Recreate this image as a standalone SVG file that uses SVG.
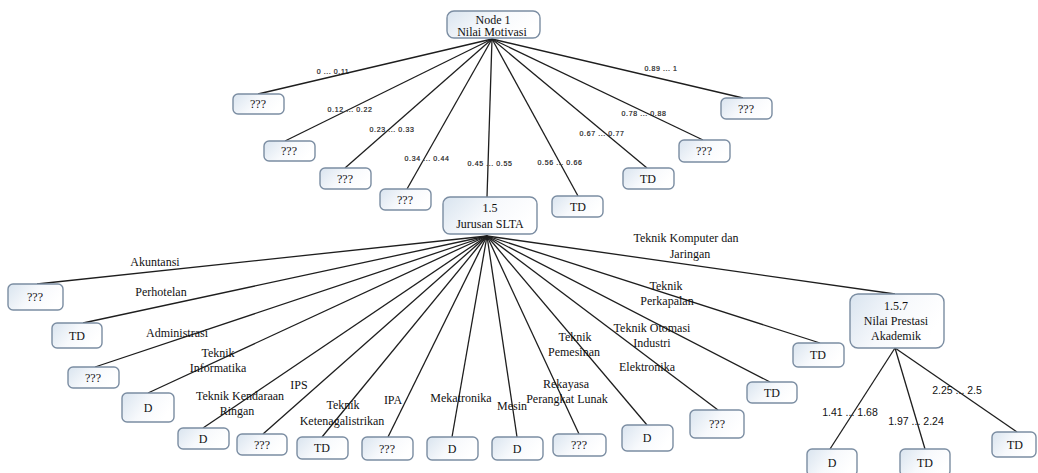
<svg xmlns="http://www.w3.org/2000/svg" width="1038" height="473" viewBox="0 0 1038 473">
  <defs>
    <linearGradient id="boxFill" x1="0" y1="0" x2="1" y2="0.4">
      <stop offset="0" stop-color="#d9e4ef"/>
      <stop offset="0.55" stop-color="#f7f9fc"/>
      <stop offset="1" stop-color="#ffffff"/>
    </linearGradient>
  </defs>
  <style>
    .box { fill: url(#boxFill); stroke: #7b8da2; stroke-width: 1.4; }
    .nt { font-family: "Liberation Serif", serif; font-size: 12px; fill: #111111; text-anchor: middle; }
    .el { font-family: "Liberation Serif", serif; font-size: 12px; fill: #111111; text-anchor: middle; }
    .sl { font-family: "Liberation Sans", sans-serif; font-size: 7px; letter-spacing: 0.6px; fill: #111111; stroke: #333333; stroke-width: 0.2; text-anchor: middle; }
    .nl { font-family: "Liberation Sans", sans-serif; font-size: 10.5px; fill: #111111; text-anchor: middle; }
    .edge { stroke: #1e1e1e; stroke-width: 1.3; fill: none; }
  </style>

  <rect width="1038" height="473" fill="#ffffff"/>

  <!-- connectors -->
  <g id="connectors">
    <!-- Node 1 branches -->
    <line class="edge" x1="492" y1="39" x2="258" y2="94"/>
    <line class="edge" x1="492" y1="39" x2="285" y2="141"/>
    <line class="edge" x1="492" y1="39" x2="345" y2="168"/>
    <line class="edge" x1="492" y1="39" x2="407" y2="189"/>
    <line class="edge" x1="492" y1="39" x2="487" y2="197"/>
    <line class="edge" x1="492" y1="39" x2="578" y2="196"/>
    <line class="edge" x1="492" y1="39" x2="647" y2="168"/>
    <line class="edge" x1="492" y1="39" x2="703" y2="140"/>
    <line class="edge" x1="492" y1="39" x2="743" y2="98"/>
    <!-- 1.5 branches -->
    <line class="edge" x1="487" y1="236" x2="37" y2="284"/>
    <line class="edge" x1="487" y1="236" x2="83" y2="323"/>
    <line class="edge" x1="487" y1="236" x2="95" y2="367"/>
    <line class="edge" x1="487" y1="236" x2="148" y2="393"/>
    <line class="edge" x1="487" y1="236" x2="203" y2="428"/>
    <line class="edge" x1="487" y1="236" x2="263" y2="434"/>
    <line class="edge" x1="487" y1="236" x2="322" y2="437"/>
    <line class="edge" x1="487" y1="236" x2="388" y2="437"/>
    <line class="edge" x1="487" y1="236" x2="452" y2="437"/>
    <line class="edge" x1="487" y1="236" x2="517" y2="437"/>
    <line class="edge" x1="487" y1="236" x2="579" y2="434"/>
    <line class="edge" x1="487" y1="236" x2="647" y2="425"/>
    <line class="edge" x1="487" y1="236" x2="718" y2="410"/>
    <line class="edge" x1="487" y1="236" x2="770" y2="382"/>
    <line class="edge" x1="487" y1="236" x2="820" y2="343"/>
    <line class="edge" x1="487" y1="236" x2="895" y2="294"/>
    <!-- 1.5.7 branches -->
    <line class="edge" x1="895" y1="348" x2="830" y2="449"/>
    <line class="edge" x1="895" y1="348" x2="925" y2="449"/>
    <line class="edge" x1="895" y1="348" x2="1017" y2="432"/>

    <!-- branch labels -->
    <text class="sl" x="333" y="74">0 ... 0.11</text>
    <text class="sl" x="350" y="112">0.12 ... 0.22</text>
    <text class="sl" x="392" y="132">0.23 ... 0.33</text>
    <text class="sl" x="427" y="161">0.34 ... 0.44</text>
    <text class="sl" x="490" y="166">0.45 ... 0.55</text>
    <text class="sl" x="560" y="165">0.56 ... 0.66</text>
    <text class="sl" x="602" y="136">0.67 ... 0.77</text>
    <text class="sl" x="644" y="116">0.78 ... 0.88</text>
    <text class="sl" x="661" y="71">0.89 ... 1</text>

    <text class="el" x="155" y="266">Akuntansi</text>
    <text class="el" x="161" y="296">Perhotelan</text>
    <text class="el" x="177" y="337">Administrasi</text>
    <text class="el" x="218" y="357">Teknik</text>
    <text class="el" x="218" y="372">Informatika</text>
    <text class="el" x="240" y="400">Teknik Kendaraan</text>
    <text class="el" x="237" y="415">Ringan</text>
    <text class="el" x="299" y="389">IPS</text>
    <text class="el" x="343" y="409">Teknik</text>
    <text class="el" x="342" y="425">Ketenagalistrikan</text>
    <text class="el" x="393" y="404">IPA</text>
    <text class="el" x="461" y="402">Mekatronika</text>
    <text class="el" x="512" y="410">Mesin</text>
    <text class="el" x="566" y="388">Rekayasa</text>
    <text class="el" x="567" y="403">Perangkat Lunak</text>
    <text class="el" x="575" y="341">Teknik</text>
    <text class="el" x="574" y="356">Pemesinan</text>
    <text class="el" x="652" y="332">Teknik Otomasi</text>
    <text class="el" x="652" y="347">Industri</text>
    <text class="el" x="647" y="371">Elektronika</text>
    <text class="el" x="666" y="290">Teknik</text>
    <text class="el" x="667" y="305">Perkapalan</text>
    <text class="el" x="686" y="242">Teknik Komputer dan</text>
    <text class="el" x="690" y="258">Jaringan</text>

    <text class="nl" x="850" y="416">1.41 ... 1.68</text>
    <text class="nl" x="916" y="425">1.97 ... 2.24</text>
    <text class="nl" x="957" y="394">2.25 ... 2.5</text>
  </g>

  <!-- root -->
  <g id="node-1">
    <rect class="box" x="447" y="11" width="93" height="27" rx="7"/>
    <text class="nt" x="493" y="24">Node 1</text>
    <text class="nt" x="492" y="36">Nilai Motivasi</text>
  </g>

  <!-- Nilai Motivasi children -->
  <g id="n-m1"><rect class="box" x="233" y="94" width="51" height="20" rx="5"/><text class="nt" x="258" y="108">???</text></g>
  <g id="n-m2"><rect class="box" x="264" y="141" width="51" height="20" rx="5"/><text class="nt" x="289" y="155">???</text></g>
  <g id="n-m3"><rect class="box" x="320" y="168" width="51" height="21" rx="5"/><text class="nt" x="345" y="183">???</text></g>
  <g id="n-m4"><rect class="box" x="380" y="189" width="51" height="21" rx="5"/><text class="nt" x="405" y="204">???</text></g>
  <g id="n-1-5">
    <rect class="box" x="443" y="197" width="94" height="37" rx="7"/>
    <text class="nt" x="490" y="212">1.5</text>
    <text class="nt" x="490" y="228">Jurusan SLTA</text>
  </g>
  <g id="n-m6"><rect class="box" x="552" y="196" width="51" height="21" rx="5"/><text class="nt" x="578" y="211">TD</text></g>
  <g id="n-m7"><rect class="box" x="623" y="168" width="51" height="21" rx="5"/><text class="nt" x="648" y="183">TD</text></g>
  <g id="n-m8"><rect class="box" x="679" y="140" width="51" height="22" rx="5"/><text class="nt" x="704" y="155">???</text></g>
  <g id="n-m9"><rect class="box" x="721" y="98" width="51" height="21" rx="5"/><text class="nt" x="746" y="113">???</text></g>

  <!-- Jurusan SLTA children -->
  <g id="n-akuntansi"><rect class="box" x="8" y="284" width="55" height="26" rx="5"/><text class="nt" x="35" y="301">???</text></g>
  <g id="n-perhotelan"><rect class="box" x="52" y="323" width="50" height="25" rx="5"/><text class="nt" x="77" y="340">TD</text></g>
  <g id="n-administrasi"><rect class="box" x="68" y="367" width="51" height="21" rx="5"/><text class="nt" x="93" y="382">???</text></g>
  <g id="n-informatika"><rect class="box" x="122" y="393" width="52" height="29" rx="5"/><text class="nt" x="148" y="412">D</text></g>
  <g id="n-kendaraan"><rect class="box" x="178" y="428" width="51" height="21" rx="5"/><text class="nt" x="203" y="443">D</text></g>
  <g id="n-ips"><rect class="box" x="237" y="434" width="50" height="21" rx="5"/><text class="nt" x="262" y="449">???</text></g>
  <g id="n-ketenagalistrikan"><rect class="box" x="297" y="437" width="51" height="22" rx="5"/><text class="nt" x="322" y="452">TD</text></g>
  <g id="n-ipa"><rect class="box" x="362" y="437" width="51" height="23" rx="5"/><text class="nt" x="387" y="453">???</text></g>
  <g id="n-mekatronika"><rect class="box" x="427" y="437" width="51" height="23" rx="5"/><text class="nt" x="452" y="453">D</text></g>
  <g id="n-mesin"><rect class="box" x="492" y="437" width="51" height="23" rx="5"/><text class="nt" x="517" y="453">D</text></g>
  <g id="n-rpl"><rect class="box" x="553" y="434" width="53" height="22" rx="5"/><text class="nt" x="579" y="449">???</text></g>
  <g id="n-pemesinan"><rect class="box" x="622" y="425" width="51" height="26" rx="5"/><text class="nt" x="647" y="442">D</text></g>
  <g id="n-otomasi"><rect class="box" x="690" y="410" width="54" height="28" rx="5"/><text class="nt" x="717" y="428">???</text></g>
  <g id="n-elektronika"><rect class="box" x="747" y="382" width="50" height="21" rx="5"/><text class="nt" x="772" y="397">TD</text></g>
  <g id="n-perkapalan"><rect class="box" x="793" y="343" width="51" height="24" rx="5"/><text class="nt" x="818" y="359">TD</text></g>
  <g id="n-1-5-7">
    <rect class="box" x="850" y="294" width="94" height="54" rx="8"/>
    <text class="nt" x="896" y="310">1.5.7</text>
    <text class="nt" x="896" y="325">Nilai Prestasi</text>
    <text class="nt" x="896" y="340">Akademik</text>
  </g>

  <!-- Nilai Prestasi Akademik children -->
  <g id="n-npa1"><rect class="box" x="807" y="449" width="50" height="27" rx="5"/><text class="nt" x="832" y="467">D</text></g>
  <g id="n-npa2"><rect class="box" x="900" y="449" width="50" height="27" rx="5"/><text class="nt" x="925" y="467">TD</text></g>
  <g id="n-npa3"><rect class="box" x="992" y="432" width="44" height="25" rx="5"/><text class="nt" x="1015" y="449">TD</text></g>
</svg>
